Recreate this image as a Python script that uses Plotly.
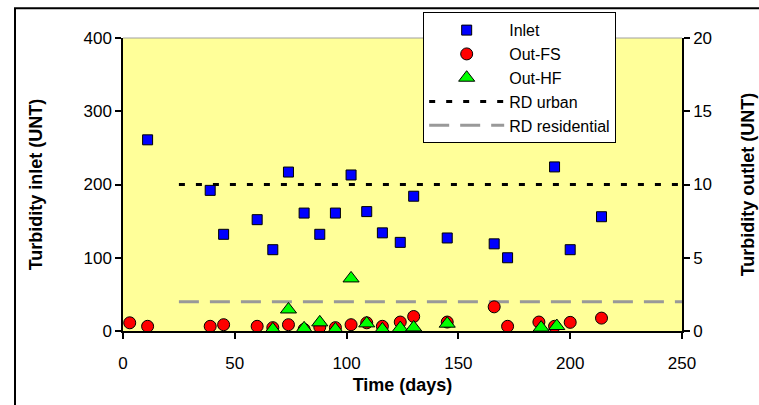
import plotly.graph_objects as go

# Sampling days and turbidity readings
inlet_days = [11, 39, 45, 60, 67, 74, 81, 88, 95, 102, 109, 116, 124, 130, 145, 166, 172, 193, 200, 214]
inlet_ntu = [261, 192, 132, 152, 111, 217, 161, 132, 161, 213, 163, 134, 121, 184, 127, 119, 100, 224, 111, 156]

fs_days = [3, 11, 39, 45, 60, 67, 74, 81, 88, 95, 102, 109, 116, 124, 130, 145, 166, 172, 186, 193, 200, 214]
fs_ntu = [0.56, 0.32, 0.32, 0.43, 0.32, 0.23, 0.43, 0.11, 0.27, 0.23, 0.43, 0.56, 0.32, 0.61, 0.99, 0.61, 1.65, 0.32, 0.61, 0.32, 0.59, 0.88]

hf_days = [67, 74, 81, 88, 95, 102, 109, 116, 124, 130, 145, 187, 194]
hf_ntu = [0.11, 1.47, 0.18, 0.59, 0.11, 3.59, 0.52, 0.11, 0.20, 0.24, 0.50, 0.23, 0.34]

# Regulatory limits (outlet scale)
rd_days = [25, 250]
rd_urban = [10, 10]
rd_residential = [2, 2]

FONT = "Liberation Sans, Arial, sans-serif"

fig = go.Figure()

fig.add_trace(go.Scatter(
    x=rd_days, y=rd_urban, yaxis="y2", mode="lines", name="RD urban",
    line=dict(color="black", width=3, dash="6px,11px"), legendrank=4))
fig.add_trace(go.Scatter(
    x=rd_days, y=rd_residential, yaxis="y2", mode="lines", name="RD residential",
    line=dict(color="#999999", width=3, dash="20px,11px"), legendrank=5))

fig.add_trace(go.Scatter(
    x=inlet_days, y=inlet_ntu, mode="markers", name="Inlet",
    marker=dict(symbol="square", size=10, color="#0000FF", line=dict(color="black", width=1)),
    legendrank=1))
fig.add_trace(go.Scatter(
    x=fs_days, y=fs_ntu, yaxis="y2", mode="markers", name="Out-FS",
    marker=dict(symbol="circle", size=12, color="#FF0000", line=dict(color="black", width=1)),
    legendrank=2))
fig.add_trace(go.Scatter(
    x=hf_days, y=hf_ntu, yaxis="y2", mode="markers", name="Out-HF",
    marker=dict(symbol="triangle-up", size=14, color="#00FF00", line=dict(color="black", width=1)),
    legendrank=3))

axis_common = dict(
    showgrid=False, zeroline=False, showline=True, linecolor="black", linewidth=1.5,
    ticks="outside", ticklen=6, tickcolor="black", tickwidth=1.5, automargin=False,
    tickfont=dict(family=FONT, size=17, color="black"),
)

fig.update_layout(
    width=759, height=405,
    margin=dict(l=123, r=77, t=36, b=74),
    paper_bgcolor="white",
    plot_bgcolor="#FFFF99",
    font=dict(family=FONT, color="black"),
    xaxis=dict(range=[0, 250], dtick=50, ticklabelstandoff=10,
               title=dict(text="<b>Time (days)</b>", font=dict(size=18), standoff=6),
               **axis_common),
    yaxis=dict(range=[0, 400], dtick=100,
               title=dict(text="<b>Turbidity inlet (UNT)</b>", font=dict(size=18), standoff=36),
               **axis_common),
    yaxis2=dict(range=[0, 20], dtick=5, overlaying="y", side="right",
                title=dict(text="<b>Turbidity outlet (UNT)</b>", font=dict(size=18), standoff=30),
                **axis_common),
    legend=dict(x=0.537, y=1.088, xanchor="left", yanchor="top",
                bgcolor="white", bordercolor="black", borderwidth=1,
                font=dict(family=FONT, size=16), itemwidth=75,
                traceorder="normal"),
    showlegend=True,
)

# Light border along the top of the plotting area
fig.add_shape(type="line", xref="paper", yref="paper", x0=0, x1=1, y0=1, y1=1,
              line=dict(color="#A0A0A0", width=1))
# Outer chart frame
fig.add_shape(type="rect", xref="paper", yref="paper",
              x0=-0.1932, x1=1.3, y0=-0.5, y1=1.1017,
              line=dict(color="black", width=2), layer="above")

fig.write_html("out.html")
